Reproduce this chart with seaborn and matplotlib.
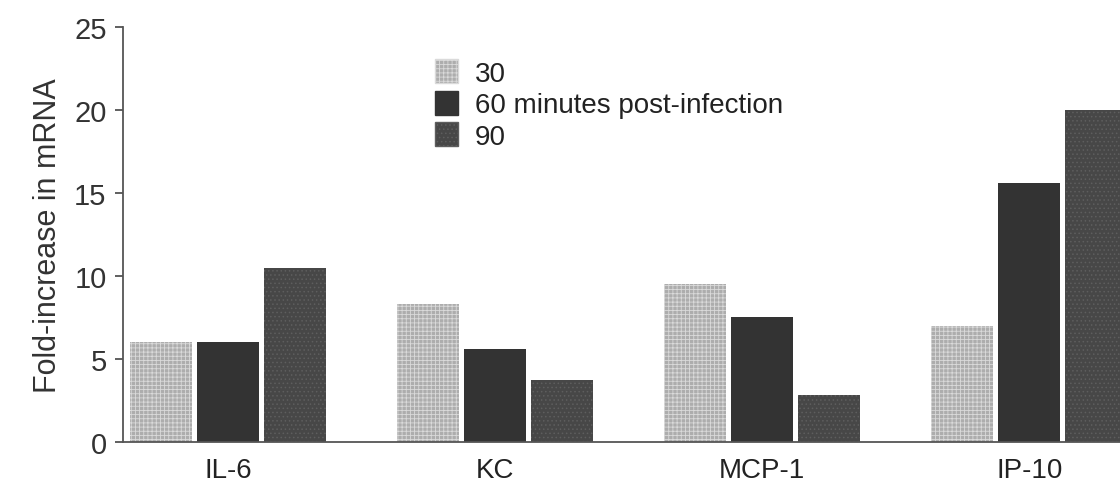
import matplotlib
matplotlib.use("Agg")
import matplotlib.pyplot as plt
import seaborn as sns
import pandas as pd

genes = ["IL-6", "KC", "MCP-1", "IP-10"]
times = ["30", "60 minutes post-infection", "90"]
vals_30 = [6.0, 8.3, 9.5, 7.0]
vals_60 = [6.0, 5.6, 7.5, 15.6]
vals_90 = [10.5, 3.7, 2.8, 20.0]
yticks = [0, 5, 10, 15, 20, 25]

rows = []
for t, vals in zip(times, [vals_30, vals_60, vals_90]):
    for g, v in zip(genes, vals):
        rows.append({"gene": g, "time": t, "value": v})
df = pd.DataFrame(rows)

sns.set_theme(style="ticks")
plt.rcParams["font.family"] = ["Liberation Sans", "DejaVu Sans"]
plt.rcParams["hatch.linewidth"] = 0.6

fig = plt.figure(figsize=(11.2, 4.85), dpi=100)
ax = fig.add_axes([0.11, 0.087, 0.89, 0.855])

faces = ["#adadad", "#333333", "#474747"]
hatch_cols = ["#dadada", "#333333", "#5e5e5e"]
hatches = ["++++", "", "...."]

sns.barplot(data=df, x="gene", y="value", hue="time", order=genes, hue_order=times,
            palette=faces, width=0.75, gap=0.07, saturation=1, ax=ax, legend=True)

for cont, fc, hc, h in zip(ax.containers, faces, hatch_cols, hatches):
    for p in cont:
        p.set_facecolor(fc)
        p.set_edgecolor(hc)
        p.set_hatch(h)
        p.set_linewidth(0)

ax.set_ylim(0, 25)
ax.set_yticks(yticks)
ax.set_xlim(-0.393, 3.34)
ax.set_xlabel("")
ax.set_ylabel("Fold-increase in mRNA", fontsize=22, color="#333333", labelpad=8)
ax.tick_params(axis="y", labelsize=21, colors="#444444", length=6, width=1.2, labelcolor="#333333", pad=6)
ax.tick_params(axis="x", labelsize=20, length=0, labelcolor="#222222", pad=11)
for s in ["top", "right"]:
    ax.spines[s].set_visible(False)
for s in ["left", "bottom"]:
    ax.spines[s].set_color("#555555")
    ax.spines[s].set_linewidth(1.3)

handles, labels = ax.get_legend_handles_labels()
for hd, fc, hc, h in zip(handles, faces, hatch_cols, hatches):
    hd.set_facecolor(fc)
    hd.set_edgecolor(hc)
    hd.set_hatch(h)
ax.legend(handles, labels, loc="upper left", bbox_to_anchor=(0.293, 0.97), frameon=False,
          fontsize=20, handlelength=0.85, handleheight=0.95, labelspacing=0.15, handletextpad=0.6,
          labelcolor="#222222", borderpad=0.2)

fig.savefig("out.png", dpi=100, facecolor="white")
